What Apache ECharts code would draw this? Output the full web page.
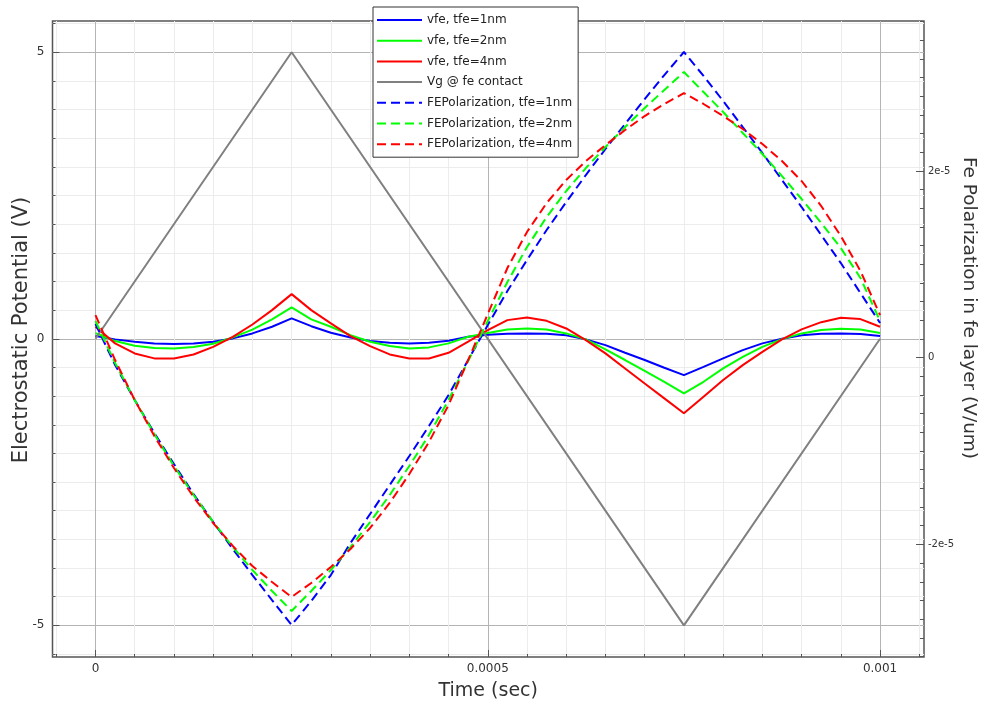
<!DOCTYPE html>
<html><head><meta charset="utf-8">
<script src="https://cdn.jsdelivr.net/npm/echarts@6/dist/echarts.min.js"></script>
<style>html,body{margin:0;padding:0;background:#fff}#c{width:984px;height:706px}</style>
</head><body><div id="c"></div>
<script>
// ---- data ----
const time = [0,0.000025,0.00005,0.000075,0.0001,0.000125,0.00015,0.000175,0.0002,0.000225,0.00025,
  0.000275,0.0003,0.000325,0.00035,0.000375,0.0004,0.000425,0.00045,0.000475,0.0005,
  0.000525,0.00055,0.000575,0.0006,0.000625,0.00065,0.000675,0.0007,0.000725,0.00075,
  0.000775,0.0008,0.000825,0.00085,0.000875,0.0009,0.000925,0.00095,0.000975,0.001];

const vfe1nm = [0.047,-0.01,-0.052,-0.08,-0.092,-0.08,-0.052,0.007,0.094,0.21,0.356,
  0.22,0.105,0.024,-0.04,-0.07,-0.08,-0.07,-0.035,0.035,0.07,
  0.087,0.094,0.087,0.06,-0.01,-0.11,-0.244,-0.37,-0.506,-0.633,
  -0.49,-0.343,-0.197,-0.08,0.0,0.06,0.087,0.094,0.082,0.047];
const vfe2nm = [0.10,-0.04,-0.12,-0.16,-0.168,-0.145,-0.087,0.024,0.16,0.34,0.548,
  0.34,0.21,0.065,-0.052,-0.127,-0.168,-0.15,-0.08,0.035,0.10,
  0.164,0.18,0.164,0.094,-0.01,-0.185,-0.37,-0.56,-0.75,-0.953,
  -0.75,-0.517,-0.314,-0.14,-0.005,0.094,0.152,0.175,0.164,0.10];
const vfe4nm = [0.21,-0.08,-0.255,-0.342,-0.342,-0.273,-0.14,0.035,0.25,0.50,0.78,
  0.50,0.268,0.047,-0.127,-0.273,-0.343,-0.343,-0.244,-0.05,0.15,
  0.326,0.373,0.314,0.18,-0.023,-0.255,-0.517,-0.78,-1.04,-1.30,
  -1.01,-0.72,-0.46,-0.227,-0.01,0.164,0.29,0.367,0.344,0.21];

const vgTime = [0, 0.00025, 0.00075, 0.001];
const vgValues = [0, 5, -5, 0];

const pol1nm = [0.361e-5,-0.078e-5,-0.453e-5,-0.807e-5,-1.139e-5,-1.460e-5,-1.760e-5,-2.049e-5,-2.328e-5,-2.596e-5,-2.863e-5,
  -2.606e-5,-2.328e-5,-1.985e-5,-1.674e-5,-1.364e-5,-1.053e-5,-0.732e-5,-0.400e-5,-0.025e-5,0.350e-5,
  0.714e-5,1.047e-5,1.368e-5,1.668e-5,1.957e-5,2.236e-5,2.503e-5,2.771e-5,3.028e-5,3.275e-5,
  3.018e-5,2.750e-5,2.471e-5,2.193e-5,1.904e-5,1.614e-5,1.314e-5,1.014e-5,0.693e-5,0.372e-5];
const pol2nm = [0.393e-5,-0.057e-5,-0.453e-5,-0.817e-5,-1.160e-5,-1.471e-5,-1.760e-5,-2.028e-5,-2.274e-5,-2.499e-5,-2.713e-5,
  -2.499e-5,-2.274e-5,-2.028e-5,-1.760e-5,-1.471e-5,-1.160e-5,-0.828e-5,-0.453e-5,-0.035e-5,0.393e-5,
  0.811e-5,1.186e-5,1.507e-5,1.786e-5,2.032e-5,2.257e-5,2.471e-5,2.675e-5,2.868e-5,3.060e-5,
  2.846e-5,2.632e-5,2.407e-5,2.182e-5,1.946e-5,1.700e-5,1.443e-5,1.175e-5,0.854e-5,0.393e-5];
const pol4nm = [0.457e-5,-0.025e-5,-0.453e-5,-0.839e-5,-1.182e-5,-1.492e-5,-1.771e-5,-2.017e-5,-2.231e-5,-2.403e-5,-2.563e-5,
  -2.413e-5,-2.242e-5,-2.049e-5,-1.824e-5,-1.556e-5,-1.246e-5,-0.903e-5,-0.507e-5,-0.025e-5,0.468e-5,
  0.961e-5,1.347e-5,1.657e-5,1.904e-5,2.107e-5,2.278e-5,2.439e-5,2.589e-5,2.718e-5,2.835e-5,
  2.718e-5,2.589e-5,2.450e-5,2.289e-5,2.107e-5,1.893e-5,1.625e-5,1.304e-5,0.929e-5,0.457e-5];

const seriesNames = ['vfe, tfe=1nm','vfe, tfe=2nm','vfe, tfe=4nm','Vg @ fe contact',
  'FEPolarization, tfe=1nm','FEPolarization, tfe=2nm','FEPolarization, tfe=4nm'];

const xTickValues = [0, 0.0005, 0.001];
const xTickLabels = ['0', '0.0005', '0.001'];
const leftTickValues = [-5, 0, 5];
const leftTickLabels = ['-5', '0', '5'];
const rightTickValues = [-2e-5, 0, 2e-5];
const rightTickLabels = ['-2e-5', '0', '2e-5'];

// ---- helpers ----
const pairs = (xs, ys) => xs.map((x, i) => [x, ys[i]]);
function labeler(vals, labels, tol) {
  return v => { const i = vals.findIndex(a => Math.abs(a - v) < tol); return i >= 0 ? labels[i] : ''; };
}
function range(a, b, step, scale) {
  const out = []; for (let i = a; i <= b; i += step) out.push(Number((i * scale).toPrecision(8))); return out;
}
const xMinor = range(-1, 21, 1, 0.00005);
const leftMinor = range(-11, 11, 1, 0.5);
const rightMinor = range(-16, 18, 1, 2e-6);

const X_MIN = -0.0000548, X_MAX = 0.001056;
const L_MIN = -5.553, L_MAX = 5.546;
const R_MIN = -3.206e-5, R_MAX = 3.607e-5;
const FONT = 'DejaVu Sans';
const AX = '#555';
const MINOR = '#ececec';
const MAJOR = '#b4b4b4';

const blue = '#0000ff', green = '#00ff00', red = '#ff0000', gray = '#808080';
const dash = [9, 5];

function line(name, data, color, yIdx, dashed) {
  return {
    name, type: 'line', xAxisIndex: 0, yAxisIndex: yIdx, data,
    symbol: 'none', showSymbol: false, smooth: false, animation: false,
    lineStyle: { color, width: 2, type: dashed ? dash : 'solid' },
    itemStyle: { color }
  };
}
const noLine = { show: false, onZero: false };

const chart = echarts.init(document.getElementById('c'), null, { renderer: 'canvas' });
chart.setOption({
  animation: false,
  backgroundColor: '#fff',
  textStyle: { fontFamily: FONT },
  grid: { left: 52.5, right: 60, top: 21, bottom: 49, show: true, borderColor: AX, borderWidth: 1.5,
          containLabel: false, outerBoundsMode: 'none' },
  legend: {
    orient: 'vertical', left: 373, top: 7, padding: [7, 6, 7, 3],
    itemWidth: 45, itemHeight: 14, itemGap: 8.7,
    backgroundColor: '#fff', borderColor: '#333', borderWidth: 1, borderRadius: 0,
    itemStyle: { opacity: 0 },
    textStyle: { fontSize: 12, color: '#222', fontFamily: FONT },
    data: seriesNames
  },
  xAxis: [
    {
      type: 'value', min: X_MIN, max: X_MAX, position: 'bottom',
      axisLine: noLine,
      axisTick: { show: true, inside: true, length: 3, customValues: xMinor, lineStyle: { color: AX } },
      axisLabel: { customValues: xTickValues, formatter: labeler(xTickValues, xTickLabels, 1e-9), fontSize: 12, color: '#333', margin: 6, fontFamily: FONT },
      splitLine: { show: true, lineStyle: { color: MINOR, width: 1 } },
      name: 'Time (sec)', nameLocation: 'middle', nameGap: 25,
      nameTextStyle: { fontSize: 19, color: '#333', fontFamily: FONT }
    },
    {
      type: 'value', min: X_MIN, max: X_MAX, position: 'bottom',
      axisLine: noLine,
      axisTick: { show: true, inside: true, length: 7, customValues: xTickValues, lineStyle: { color: AX } },
      axisLabel: { show: false },
      splitLine: { show: true, lineStyle: { color: MAJOR, width: 1 } }
    }
  ],
  yAxis: [
    {
      type: 'value', min: L_MIN, max: L_MAX, position: 'left',
      axisLine: noLine,
      axisTick: { show: true, inside: true, length: 3, customValues: leftMinor, lineStyle: { color: AX } },
      axisLabel: { customValues: leftTickValues, formatter: labeler(leftTickValues, leftTickLabels, 1e-6), fontSize: 12, color: '#333', margin: 8, fontFamily: FONT },
      splitLine: { show: true, lineStyle: { color: MINOR, width: 1 } },
      name: 'Electrostatic Potential (V)', nameLocation: 'middle', nameGap: 20, nameMoveOverlap: false,
      nameTextStyle: { fontSize: 21, color: '#333', fontFamily: FONT, padding: [0, 0, 0, 18] }
    },
    {
      type: 'value', min: R_MIN, max: R_MAX, position: 'right',
      axisLine: noLine,
      axisTick: { show: true, inside: true, length: 4, customValues: rightMinor, lineStyle: { color: AX } },
      axisLabel: { customValues: rightTickValues, formatter: labeler(rightTickValues, rightTickLabels, 1e-9), fontSize: 10, color: '#333', margin: 4, fontFamily: FONT },
      splitLine: { show: false },
      name: 'Fe Polarization in fe layer (V/um)', nameLocation: 'middle', nameGap: 35, nameRotate: -90, nameMoveOverlap: false,
      nameTextStyle: { fontSize: 18.5, color: '#333', fontFamily: FONT, padding: [0, 62, 0, 0] }
    },
    {
      type: 'value', min: L_MIN, max: L_MAX, position: 'left',
      axisLine: noLine,
      axisTick: { show: true, inside: true, length: 7, customValues: leftTickValues, lineStyle: { color: AX } },
      axisLabel: { show: false },
      splitLine: { show: true, lineStyle: { color: MAJOR, width: 1 } }
    },
    {
      type: 'value', min: R_MIN, max: R_MAX, position: 'right',
      axisLine: noLine,
      axisTick: { show: true, inside: true, length: 8, customValues: rightTickValues, lineStyle: { color: AX } },
      axisLabel: { show: false },
      splitLine: { show: false }
    }
  ],
  series: [
    line(seriesNames[0], pairs(time, vfe1nm), blue, 0, false),
    line(seriesNames[1], pairs(time, vfe2nm), green, 0, false),
    line(seriesNames[2], pairs(time, vfe4nm), red, 0, false),
    line(seriesNames[3], pairs(vgTime, vgValues), gray, 0, false),
    line(seriesNames[4], pairs(time, pol1nm), blue, 1, true),
    line(seriesNames[5], pairs(time, pol2nm), green, 1, true),
    line(seriesNames[6], pairs(time, pol4nm), red, 1, true)
  ]
});
</script>
</body></html>
